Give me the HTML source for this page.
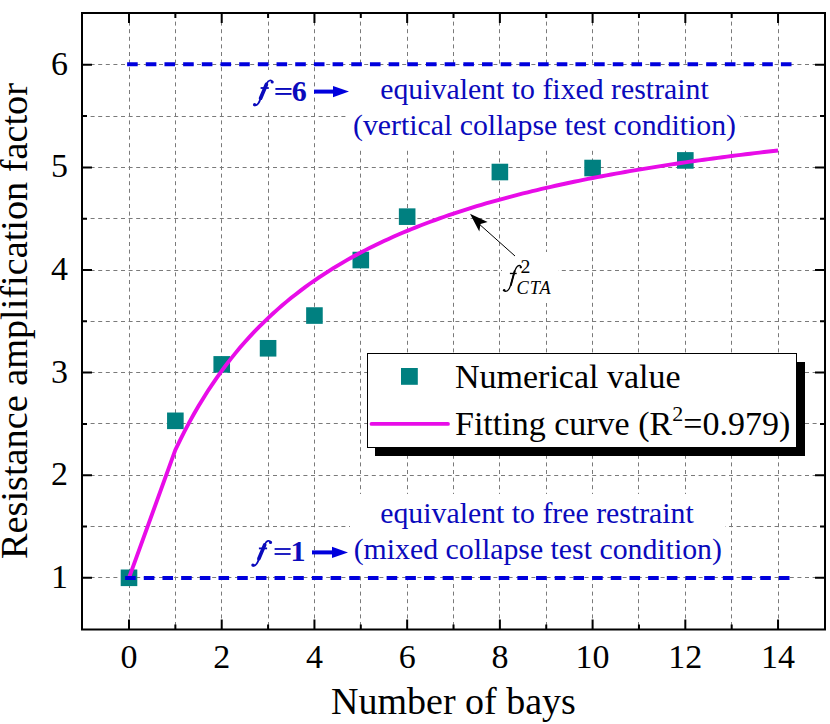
<!DOCTYPE html><html><head><meta charset="utf-8"><style>html,body{margin:0;padding:0;background:#fff;}svg{display:block}text{font-family:"Liberation Serif",serif}</style></head><body>
<svg width="830" height="724" viewBox="0 0 830 724">
<rect width="830" height="724" fill="#fff"/>
<path d="M129.5 14V628.5 M175.5 14V628.5 M221.5 14V628.5 M268.5 14V628.5 M314.5 14V628.5 M360.5 14V628.5 M407.5 14V628.5 M453.5 14V628.5 M499.5 14V628.5 M546.5 14V628.5 M592.5 14V628.5 M638.5 14V628.5 M685.5 14V628.5 M731.5 14V628.5 M778.5 14V628.5 M83 577.5H824 M83 526.5H824 M83 475.5H824 M83 423.5H824 M83 372.5H824 M83 321.5H824 M83 270.5H824 M83 218.5H824 M83 167.5H824 M83 116.5H824 M83 64.5H824" stroke="#7a7a7a" stroke-width="1" stroke-dasharray="4 3.6" fill="none"/>
<rect x="120.70" y="569.50" width="16.6" height="16.6" fill="#008080"/>
<rect x="167.06" y="412.52" width="16.6" height="16.6" fill="#008080"/>
<rect x="213.42" y="356.09" width="16.6" height="16.6" fill="#008080"/>
<rect x="259.78" y="339.98" width="16.6" height="16.6" fill="#008080"/>
<rect x="306.14" y="307.25" width="16.6" height="16.6" fill="#008080"/>
<rect x="352.50" y="251.75" width="16.6" height="16.6" fill="#008080"/>
<rect x="398.86" y="208.35" width="16.6" height="16.6" fill="#008080"/>
<rect x="491.58" y="163.72" width="16.6" height="16.6" fill="#008080"/>
<rect x="584.30" y="159.72" width="16.6" height="16.6" fill="#008080"/>
<rect x="677.02" y="152.12" width="16.6" height="16.6" fill="#008080"/>
<polyline points="129.00,577.80 175.36,449.96 180.00,440.34 184.63,431.17 189.27,422.41 193.90,414.05 198.54,406.05 203.18,398.40 207.81,391.07 212.45,384.05 217.08,377.31 221.72,370.84 226.36,364.63 230.99,358.65 235.63,352.90 240.26,347.37 244.90,342.04 249.54,336.90 254.17,331.94 258.81,327.16 263.44,322.54 268.08,318.08 272.72,313.76 277.35,309.58 281.99,305.54 286.62,301.63 291.26,297.84 295.90,294.17 300.53,290.60 305.17,287.15 309.80,283.79 314.44,280.54 319.08,277.37 323.71,274.30 328.35,271.31 332.98,268.41 337.62,265.58 342.26,262.83 346.89,260.15 351.53,257.54 356.16,255.00 360.80,252.53 365.44,250.11 370.07,247.76 374.71,245.46 379.34,243.22 383.98,241.03 388.62,238.90 393.25,236.82 397.89,234.78 402.52,232.79 407.16,230.85 411.80,228.95 416.43,227.09 421.07,225.27 425.70,223.49 430.34,221.75 434.98,220.05 439.61,218.38 444.25,216.75 448.88,215.15 453.52,213.59 458.16,212.05 462.79,210.55 467.43,209.08 472.06,207.63 476.70,206.21 481.34,204.83 485.97,203.46 490.61,202.13 495.24,200.81 499.88,199.53 504.52,198.26 509.15,197.02 513.79,195.81 518.42,194.61 523.06,193.43 527.70,192.28 532.33,191.15 536.97,190.03 541.60,188.94 546.24,187.86 550.88,186.80 555.51,185.76 560.15,184.74 564.78,183.73 569.42,182.74 574.06,181.77 578.69,180.81 583.33,179.87 587.96,178.94 592.60,178.02 597.24,177.12 601.87,176.24 606.51,175.37 611.14,174.51 615.78,173.66 620.42,172.83 625.05,172.01 629.69,171.20 634.32,170.41 638.96,169.62 643.60,168.85 648.23,168.09 652.87,167.34 657.50,166.60 662.14,165.87 666.78,165.15 671.41,164.44 676.05,163.74 680.68,163.05 685.32,162.37 689.96,161.69 694.59,161.03 699.23,160.38 703.86,159.73 708.50,159.10 713.14,158.47 717.77,157.85 722.41,157.23 727.04,156.63 731.68,156.03 736.32,155.44 740.95,154.86 745.59,154.29 750.22,153.72 754.86,153.16 759.50,152.61 764.13,152.06 768.77,151.52 773.40,150.99 778.04,150.46" fill="none" stroke="#e80ce8" stroke-width="3.9" stroke-linejoin="round"/>
<path d="M127.10 64.3h10.6 M145.78 64.3h10.6 M164.46 64.3h10.6 M183.14 64.3h10.6 M201.82 64.3h10.6 M220.50 64.3h10.6 M239.18 64.3h10.6 M257.86 64.3h10.6 M276.54 64.3h10.6 M295.22 64.3h10.6 M313.90 64.3h10.6 M332.58 64.3h10.6 M351.26 64.3h10.6 M369.94 64.3h10.6 M388.62 64.3h10.6 M407.30 64.3h10.6 M425.98 64.3h10.6 M444.66 64.3h10.6 M463.34 64.3h10.6 M482.02 64.3h10.6 M500.70 64.3h10.6 M519.38 64.3h10.6 M538.06 64.3h10.6 M556.74 64.3h10.6 M575.42 64.3h10.6 M594.10 64.3h10.6 M612.78 64.3h10.6 M631.46 64.3h10.6 M650.14 64.3h10.6 M668.82 64.3h10.6 M687.50 64.3h10.6 M706.18 64.3h10.6 M724.86 64.3h10.6 M743.54 64.3h10.6 M762.22 64.3h10.6 M780.90 64.3h10.6 M125.10 578h10.6 M143.78 578h10.6 M162.46 578h10.6 M181.14 578h10.6 M199.82 578h10.6 M218.50 578h10.6 M237.18 578h10.6 M255.86 578h10.6 M274.54 578h10.6 M293.22 578h10.6 M311.90 578h10.6 M330.58 578h10.6 M349.26 578h10.6 M367.94 578h10.6 M386.62 578h10.6 M405.30 578h10.6 M423.98 578h10.6 M442.66 578h10.6 M461.34 578h10.6 M480.02 578h10.6 M498.70 578h10.6 M517.38 578h10.6 M536.06 578h10.6 M554.74 578h10.6 M573.42 578h10.6 M592.10 578h10.6 M610.78 578h10.6 M629.46 578h10.6 M648.14 578h10.6 M666.82 578h10.6 M685.50 578h10.6 M704.18 578h10.6 M722.86 578h10.6 M741.54 578h10.6 M760.22 578h10.6 M778.90 578h10.6" stroke="#0000dd" stroke-width="4" fill="none"/>
<rect x="82" y="13" width="743" height="616.5" fill="none" stroke="#000" stroke-width="2"/>
<path d="M129.00 629.5v-10 M129.00 13v10 M175.36 629.5v-5 M175.36 13v5 M221.72 629.5v-10 M221.72 13v10 M268.08 629.5v-5 M268.08 13v5 M314.44 629.5v-10 M314.44 13v10 M360.80 629.5v-5 M360.80 13v5 M407.16 629.5v-10 M407.16 13v10 M453.52 629.5v-5 M453.52 13v5 M499.88 629.5v-10 M499.88 13v10 M546.24 629.5v-5 M546.24 13v5 M592.60 629.5v-10 M592.60 13v10 M638.96 629.5v-5 M638.96 13v5 M685.32 629.5v-10 M685.32 13v10 M731.68 629.5v-5 M731.68 13v5 M778.04 629.5v-10 M778.04 13v10 M82 577.80h10 M825 577.80h-10 M82 526.50h5 M825 526.50h-5 M82 475.20h10 M825 475.20h-10 M82 423.90h5 M825 423.90h-5 M82 372.60h10 M825 372.60h-10 M82 321.30h5 M825 321.30h-5 M82 270.00h10 M825 270.00h-10 M82 218.70h5 M825 218.70h-5 M82 167.40h10 M825 167.40h-10 M82 116.10h5 M825 116.10h-5 M82 64.80h10 M825 64.80h-10" stroke="#000" stroke-width="2" fill="none"/>
<text x="129.00" y="667.6" font-size="34" text-anchor="middle" fill="#000">0</text>
<text x="221.72" y="667.6" font-size="34" text-anchor="middle" fill="#000">2</text>
<text x="314.44" y="667.6" font-size="34" text-anchor="middle" fill="#000">4</text>
<text x="407.16" y="667.6" font-size="34" text-anchor="middle" fill="#000">6</text>
<text x="499.88" y="667.6" font-size="34" text-anchor="middle" fill="#000">8</text>
<text x="592.60" y="667.6" font-size="34" text-anchor="middle" fill="#000">10</text>
<text x="685.32" y="667.6" font-size="34" text-anchor="middle" fill="#000">12</text>
<text x="778.04" y="667.6" font-size="34" text-anchor="middle" fill="#000">14</text>
<text x="68" y="587.80" font-size="34" text-anchor="end" fill="#000">1</text>
<text x="68" y="485.20" font-size="34" text-anchor="end" fill="#000">2</text>
<text x="68" y="382.60" font-size="34" text-anchor="end" fill="#000">3</text>
<text x="68" y="280.00" font-size="34" text-anchor="end" fill="#000">4</text>
<text x="68" y="177.40" font-size="34" text-anchor="end" fill="#000">5</text>
<text x="68" y="74.80" font-size="34" text-anchor="end" fill="#000">6</text>
<text x="453.5" y="713.5" font-size="38" text-anchor="middle" fill="#000">Number of bays</text>
<text transform="translate(26.5 321) rotate(-90)" font-size="38.25" text-anchor="middle" fill="#000">Resistance amplification factor</text>
<rect x="246" y="70" width="64" height="42" fill="#fff"/>
<rect x="349" y="67" width="391" height="82" fill="#fff"/>
<rect x="246" y="530" width="64" height="43" fill="#fff"/>
<rect x="350" y="494" width="375" height="80" fill="#fff"/>
<rect x="502" y="252" width="56" height="51" fill="#fff"/>
<g transform="translate(0 0)" fill="none" stroke="#0a0abc" stroke-linecap="round"><path d="M272.3 81.6C271.2 79.6 268.4 80.2 266.9 83.2" stroke-width="1.7"/><path d="M266.4 84.5L260.6 98.2" stroke-width="3.7"/><path d="M260.9 97.5C259.6 101.8 258 105.4 255.2 105.4" stroke-width="1.9"/><circle cx="272.2" cy="82" r="1.55" fill="#0a0abc" stroke="none"/><circle cx="254.6" cy="104.7" r="1.65" fill="#0a0abc" stroke="none"/><rect x="260.6" y="87.1" width="8.2" height="1.8" fill="#0a0abc" stroke="none"/></g>
<rect x="275.4" y="88" width="16.1" height="1.9" fill="#0a0abc"/><rect x="275.4" y="93" width="16.1" height="1.9" fill="#0a0abc"/>
<text x="291.8" y="100.6" font-size="30" font-weight="bold" fill="#0a0abc">6</text>
<path d="M314 91.6H335" stroke="#0000dd" stroke-width="4"/><path d="M349 91.6L333 86.0L333 97.19999999999999Z" fill="#0000dd"/>
<text x="544.5" y="98.5" font-size="29.8" text-anchor="middle" fill="#0a0abc">equivalent to fixed restraint</text>
<text x="544.5" y="134.6" font-size="29.8" text-anchor="middle" fill="#0a0abc">(vertical collapse test condition)</text>
<g transform="translate(-1.7 460.4)" fill="none" stroke="#0a0abc" stroke-linecap="round"><path d="M272.3 81.6C271.2 79.6 268.4 80.2 266.9 83.2" stroke-width="1.7"/><path d="M266.4 84.5L260.6 98.2" stroke-width="3.7"/><path d="M260.9 97.5C259.6 101.8 258 105.4 255.2 105.4" stroke-width="1.9"/><circle cx="272.2" cy="82" r="1.55" fill="#0a0abc" stroke="none"/><circle cx="254.6" cy="104.7" r="1.65" fill="#0a0abc" stroke="none"/><rect x="260.6" y="87.1" width="8.2" height="1.8" fill="#0a0abc" stroke="none"/></g>
<rect x="274.6" y="548.1" width="16" height="1.8" fill="#0a0abc"/><rect x="274.6" y="553.1" width="16" height="1.8" fill="#0a0abc"/>
<text x="290.5" y="560.9" font-size="30" font-weight="bold" fill="#0a0abc">1</text>
<path d="M312 552.4H334" stroke="#0000dd" stroke-width="4"/><path d="M348 552.4L332 546.8L332 558.0Z" fill="#0000dd"/>
<text x="537" y="523.4" font-size="29.8" text-anchor="middle" fill="#0a0abc">equivalent to free restraint</text>
<text x="537.8" y="559.1" font-size="29.8" text-anchor="middle" fill="#0a0abc">(mixed collapse test condition)</text>
<path d="M515 256L478 223" stroke="#000" stroke-width="1"/>
<path d="M470 213.8L487.6 222.1L480.5 224L479.3 231.5Z" fill="#000"/>
<g fill="none" stroke="#000" stroke-linecap="round"><path d="M521.0 267.0C520.6 265.2 518.4 264.9 516.9 266.8C515.6 268.4 514.5 271.5 513.4 275.5L510.9 284.5C509.7 288.5 507.6 291.5 505.0 291.4" stroke-width="1.3"/><path d="M514.6 271.2L510.8 285.2" stroke-width="1.9"/><circle cx="520.8" cy="267.3" r="1.15" fill="#000" stroke="none"/><circle cx="504.2" cy="290.3" r="1.25" fill="#000" stroke="none"/><rect x="509.9" y="272.8" width="6.8" height="1.35" fill="#000" stroke="none"/></g>
<text x="520.5" y="272.9" font-size="19.8" fill="#000">2</text>
<text x="516.6" y="293.6" font-size="18.3" font-style="italic" letter-spacing="0.9" fill="#000">CTA</text>
<rect x="375" y="362" width="430" height="94" fill="#000"/>
<rect x="367.5" y="353.5" width="429" height="94" fill="#fff" stroke="#000" stroke-width="1"/>
<rect x="401" y="368" width="16.8" height="16.8" fill="#008080"/>
<path d="M371.5 423.9H448" stroke="#e80ce8" stroke-width="3.8" stroke-linecap="round"/>
<text x="455" y="388.1" font-size="34" fill="#000">Numerical value</text>
<text x="455" y="434.8" font-size="34" fill="#000">Fitting curve (R<tspan font-size="22" dy="-14">2</tspan><tspan dy="14">=0.979)</tspan></text>
</svg></body></html>
